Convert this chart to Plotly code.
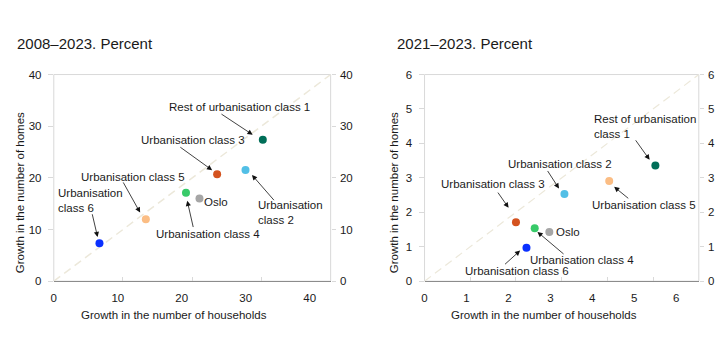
import plotly.graph_objects as go

# Growth in households (x) vs growth in homes (y), percent
regions = [
    "Oslo",
    "Rest of urbanisation class 1",
    "Urbanisation class 2",
    "Urbanisation class 3",
    "Urbanisation class 4",
    "Urbanisation class 5",
    "Urbanisation class 6",
]
colors = ["#a6a6a6", "#006e58", "#52bfe6", "#d4531f", "#38ca69", "#fbbd84", "#0a30ff"]

households_2008_2023 = [21.05, 30.2, 27.7, 23.6, 19.1, 13.3, 6.6]
homes_2008_2023 = [16.0, 27.4, 21.5, 20.7, 17.1, 12.0, 7.35]

households_2021_2023 = [2.73, 5.05, 3.06, 2.0, 2.41, 4.04, 2.23]
homes_2021_2023 = [1.43, 3.36, 2.53, 1.71, 1.54, 2.91, 0.97]

# axis ranges and tick values
left_max = 40
left_ticks = [0, 10, 20, 30, 40]
right_max = 6
right_ticks = [0, 1, 2, 3, 4, 5, 6]

W, H = 722, 348
FONT = "Liberation Sans, Arial, sans-serif"
TXT = "#1a1a1a"
BORDER = "#d9d9d9"
DIAG = "#ece8da"


def px(x):
    return x / W


def py(y):
    return 1 - y / H


fig = go.Figure()

# 45-degree reference lines
fig.add_trace(go.Scatter(x=[0, left_max], y=[0, left_max], mode="lines",
                         line=dict(color=DIAG, width=1.5, dash="8px,5px"),
                         xaxis="x", yaxis="y", hoverinfo="skip", showlegend=False))
fig.add_trace(go.Scatter(x=[0, right_max], y=[0, right_max], mode="lines",
                         line=dict(color=DIAG, width=1.2, dash="8px,5px"),
                         xaxis="x2", yaxis="y2", hoverinfo="skip", showlegend=False))

fig.add_trace(go.Scatter(x=households_2008_2023, y=homes_2008_2023, mode="markers",
                         marker=dict(size=8, color=colors), text=regions,
                         xaxis="x", yaxis="y", showlegend=False))
fig.add_trace(go.Scatter(x=households_2021_2023, y=homes_2021_2023, mode="markers",
                         marker=dict(size=8, color=colors), text=regions,
                         xaxis="x2", yaxis="y2", showlegend=False))

# empty traces so the label-only axes (bottom labels, right-hand scale) are drawn
for xa, ya in (("x3", "y3"), ("x4", "y4")):
    fig.add_trace(go.Scatter(x=[None], y=[None], mode="markers", xaxis=xa, yaxis=ya,
                             hoverinfo="skip", showlegend=False))

y_dom = [py(285), py(71)]
left_dom = [px(51), px(329)]
right_dom = [px(423.3), px(698.7)]

tickfont = dict(family=FONT, size=11.5, color=TXT)

data_x = dict(showgrid=False, zeroline=False, showline=True, linecolor="#8c8c8c",
              linewidth=1, ticks="inside", ticklen=4, tickcolor=BORDER,
              showticklabels=False)
label_x = dict(showgrid=False, zeroline=False, showline=False, ticks="",
               tickfont=tickfont, side="bottom", ticklabelstandoff=8)
data_y = dict(showgrid=False, zeroline=False, showline=False, ticks="outside",
              ticklen=5, tickcolor=BORDER, tickfont=tickfont, ticklabelstandoff=4)
label_y = dict(showgrid=False, zeroline=False, showline=False, ticks="outside",
               ticklen=4, tickcolor=BORDER, tickfont=tickfont, side="right",
               ticklabelstandoff=2)

fig.update_layout(
    width=W, height=H, margin=dict(l=0, r=0, t=0, b=0),
    paper_bgcolor="white", plot_bgcolor="white",
    font=dict(family=FONT, color=TXT),
    xaxis=dict(domain=left_dom, range=[0, left_max], tickvals=left_ticks, anchor="y", **data_x),
    xaxis3=dict(overlaying="x", anchor="y", range=[0, 43.27], tickvals=left_ticks, **label_x),
    yaxis=dict(domain=y_dom, range=[0, left_max], tickvals=left_ticks, anchor="x", **data_y),
    yaxis3=dict(overlaying="y", anchor="x", range=[0, left_max], tickvals=left_ticks, **label_y),
    xaxis2=dict(domain=right_dom, range=[0, right_max], tickvals=right_ticks, anchor="y2", **data_x),
    xaxis4=dict(overlaying="x2", anchor="y2", range=[0, 6.54], tickvals=right_ticks, **label_x),
    yaxis2=dict(domain=y_dom, range=[0, right_max], tickvals=right_ticks, anchor="x2", **data_y),
    yaxis4=dict(overlaying="y2", anchor="x2", range=[0, right_max], tickvals=right_ticks, **label_y),
)

# light frame around each plot area
for xr, yr in (("x domain", "y domain"), ("x2 domain", "y2 domain")):
    fig.add_shape(type="rect", xref=xr, yref=yr, x0=0, x1=1, y0=0, y1=1,
                  line=dict(color=BORDER, width=1), layer="below")

ann = []


def text(s, x, y, xanchor="center", size=11.5, angle=0, align="left"):
    ann.append(dict(text=s, x=px(x), y=py(y), xref="paper", yref="paper",
                    xanchor=xanchor, yanchor="middle", showarrow=False,
                    textangle=angle, align=align,
                    font=dict(family=FONT, size=size, color=TXT)))


def arrow(x0, y0, x1, y1):
    ann.append(dict(text="", x=px(x1), y=py(y1), xref="paper", yref="paper",
                    ax=x0 - x1, ay=y0 - y1, axref="pixel", ayref="pixel",
                    showarrow=True, arrowhead=2, arrowsize=1.3, arrowwidth=0.8,
                    arrowcolor="#111111"))


# panel titles
text("2008\u20132023. Percent", 12, 39, xanchor="left", size=15)
text("2021\u20132023. Percent", 394, 39, xanchor="left", size=15)

# axis titles
text("Growth in the number of households", 172, 320)
text("Growth in the number of households", 543.5, 320)
text("Growth in the number of homes", 17, 193, angle=-90)
text("Growth in the number of homes", 392.5, 193, angle=-90)

# left panel labels
text("Rest of urbanisation class 1", 237.5, 104.7)
arrow(218, 111.7, 250.7, 133.3)
text("Urbanisation class 3", 190.7, 139.3)
arrow(176.7, 146, 210, 170)
text("Urbanisation class 5", 130.7, 176.7)
arrow(120, 182.3, 137.7, 214)
text("Urbanisation<br>class 6", 53, 201.7, xanchor="left")
arrow(89.3, 215, 95, 239.3)
text("Oslo", 199.5, 203.3, xanchor="left")
text("Urbanisation class 4", 205.8, 235.7)
arrow(191.3, 229.5, 185, 201.7)
text("Urbanisation<br>class 2", 254, 213.7, xanchor="left")
arrow(273.3, 201.7, 250, 175)

# right panel labels
text("Rest of urbanisation<br>class 1", 591, 124.7, xanchor="left")
arrow(634.3, 138.3, 649.3, 159.3)
text("Urbanisation class 2", 559, 163.3)
arrow(546, 170, 558.3, 189)
text("Urbanisation class 3", 492.5, 184.7)
arrow(496, 192.3, 507.7, 209)
text("Urbanisation class 5", 643.8, 206.3)
arrow(629.3, 200, 613.7, 187.3)
text("Oslo", 553.5, 234, xanchor="left")
text("Urbanisation class 4", 581, 263)
arrow(564.3, 257.3, 536.7, 234)
text("Urbanisation class 6", 516.3, 274)
arrow(502.7, 268.3, 519.3, 253.3)

fig.update_layout(annotations=ann)

fig.write_html("out.html")
